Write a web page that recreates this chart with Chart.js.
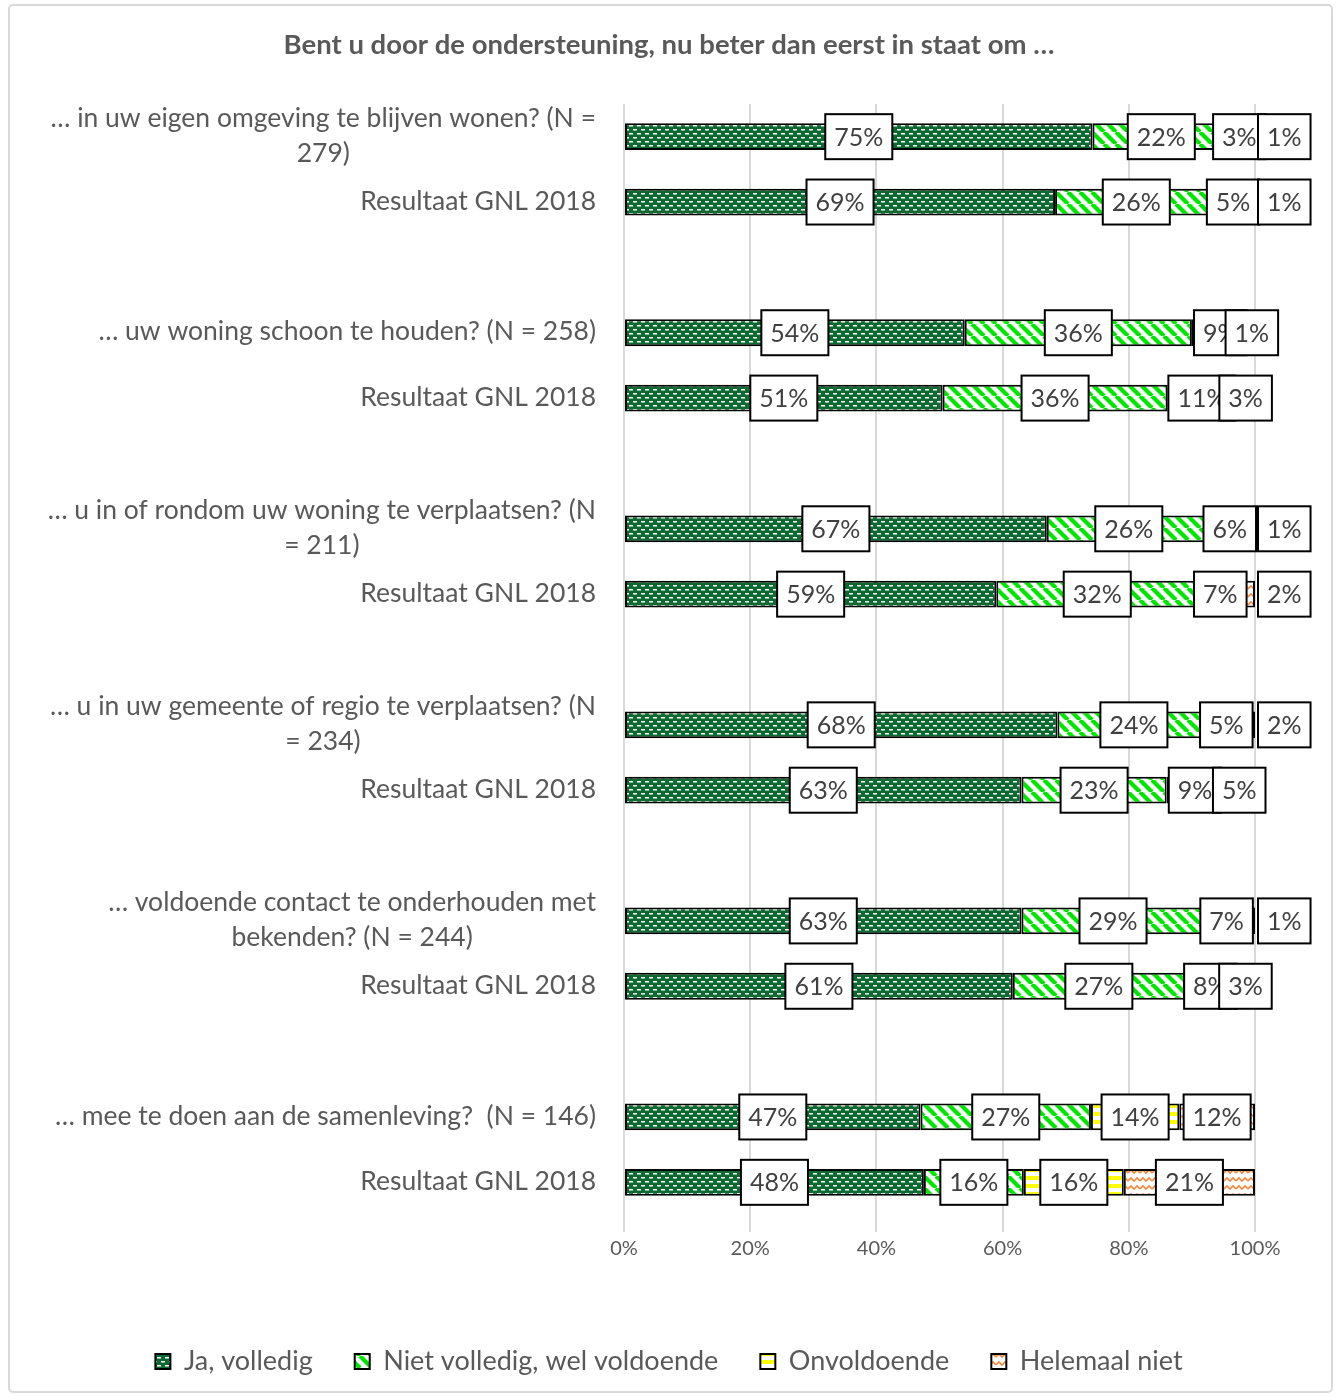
<!DOCTYPE html>
<html lang="nl">
<head>
<meta charset="utf-8">
<title>Ondersteuning</title>
<script src="https://cdn.jsdelivr.net/npm/chart.js@4.4.1/dist/chart.umd.min.js"></script>
<style>
  html, body { margin: 0; padding: 0; background: #fff; }
  canvas { display: block; }
</style>
</head>
<body>
<canvas id="chart" width="1338" height="1397"></canvas>
<script>
// Categories (empty entries are the spacer rows between the questions)
const categories = [
  ['… in uw eigen omgeving te blijven wonen? (N =', '279)'],
  ['Resultaat GNL 2018'],
  [''],
  ['… uw woning schoon te houden? (N = 258)'],
  ['Resultaat GNL 2018'],
  [''],
  ['… u in of rondom uw woning te verplaatsen? (N', '= 211)'],
  ['Resultaat GNL 2018'],
  [''],
  ['… u in uw gemeente of regio te verplaatsen? (N', '= 234)'],
  ['Resultaat GNL 2018'],
  [''],
  ['… voldoende contact te onderhouden met', 'bekenden? (N = 244)'],
  ['Resultaat GNL 2018'],
  [''],
  ['… mee te doen aan de samenleving?  (N = 146)'],
  ['Resultaat GNL 2018']
];

const seriesNames = ['Ja, volledig', 'Niet volledig, wel voldoende', 'Onvoldoende', 'Helemaal niet'];

// percentages as printed in the labels
const jaVolledig   = [75, 69, null, 54, 51, null, 67, 59, null, 68, 63, null, 63, 61, null, 47, 48];
const nietVolledig = [22, 26, null, 36, 36, null, 26, 32, null, 24, 23, null, 29, 27, null, 27, 16];
const onvoldoende  = [3, 5, null, 9, 11, null, 6, 7, null, 5, 9, null, 7, 8, null, 14, 16];
const helemaalNiet = [1, 1, null, 1, 3, null, 1, 2, null, 2, 5, null, 1, 3, null, 12, 21];

const xTicks = [0, 20, 40, 60, 80, 100];

const allSeries = [jaVolledig, nietVolledig, onvoldoende, helemaalNiet];

// 100% stacked: every bar is scaled to its own row total
const rowTotals = categories.map((_, i) => allSeries.reduce((s, arr) => s + (arr[i] || 0), 0));
function toShare(arr) {
    return arr.map((v, i) => v == null ? null : v / rowTotals[i] * 100);
}

function makePattern(w, h, draw) {
    const c = document.createElement('canvas');
    c.width = w;
    c.height = h;
    const g = c.getContext('2d');
    draw(g, w, h);
    return g.createPattern(c, 'repeat');
}

const dotsGreen = makePattern(8, 8, (g, w, h) => {
    g.fillStyle = '#0d6b31';
    g.fillRect(0, 0, w, h);
    g.fillStyle = '#ffffff';
    g.fillRect(1, 1, 4, 1.5);
    g.fillRect(5, 5, 3, 1.5);
    g.fillRect(0, 5, 1, 1.5);
});

const diagGreen = makePattern(12, 12, (g, w, h) => {
    g.fillStyle = '#ffffff';
    g.fillRect(0, 0, w, h);
    g.strokeStyle = '#00e600';
    g.lineWidth = 4.2;
    [-12, 0, 12].forEach(x0 => {
        g.beginPath();
        g.moveTo(x0, 0);
        g.lineTo(x0 + 12, 12);
        g.stroke();
    });
});

const stripesYellow = makePattern(4, 8, (g, w, h) => {
    g.fillStyle = '#ffffff';
    g.fillRect(0, 0, w, h);
    g.fillStyle = '#ffff00';
    g.fillRect(0, 0, w, 4);
});

const waveOrange = makePattern(12, 8, (g, w, h) => {
    g.fillStyle = '#ffffff';
    g.fillRect(0, 0, w, h);
    g.strokeStyle = '#f5873a';
    g.lineWidth = 1.6;
    g.beginPath();
    g.moveTo(0, 5);
    g.lineTo(3, 2);
    g.lineTo(6, 5);
    g.lineTo(9, 2);
    g.lineTo(12, 5);
    g.stroke();
});

const fills = [dotsGreen, diagGreen, stripesYellow, waveOrange];

const frame = {
    id: 'frame',
    beforeDraw(chart) {
        const ctx = chart.ctx;
        ctx.save();
        ctx.fillStyle = '#ffffff';
        ctx.fillRect(0, 0, chart.width, chart.height);
        ctx.strokeStyle = '#d9d9d9';
        ctx.lineWidth = 2;
        ctx.beginPath();
        ctx.roundRect(9, 5, 1323, 1387, 4);
        ctx.stroke();
        ctx.restore();
    }
};

// category labels: block right aligned to the axis, lines centred on each other
const rowLabels = {
    id: 'rowLabels',
    afterDraw(chart) {
        const ctx = chart.ctx;
        const yScale = chart.scales.y;
        const right = chart.chartArea.left - 28;
        ctx.save();
        ctx.font = '26.5px Lato';
        ctx.fillStyle = '#595959';
        ctx.textAlign = 'center';
        ctx.textBaseline = 'middle';
        categories.forEach((lines, i) => {
            const cy = yScale.getPixelForValue(i);
            const widest = Math.max(...lines.map(l => ctx.measureText(l).width));
            const cx = right - widest / 2;
            lines.forEach((l, k) => {
                ctx.fillText(l, cx, cy - 1 + (k - (lines.length - 1) / 2) * 35);
            });
        });
        ctx.restore();
    }
};

// boxed value labels in the middle of each segment
const valueBoxes = {
    id: 'valueBoxes',
    afterDatasetsDraw(chart) {
        const ctx = chart.ctx;
        const end = chart.scales.x.getPixelForValue(100);
        ctx.save();
        ctx.font = '25px Lato';
        ctx.textAlign = 'center';
        ctx.textBaseline = 'middle';
        categories.forEach((_, i) => {
            let prev = null;
            chart.data.datasets.forEach((ds, d) => {
                const v = ds.raw[i];
                if (v == null) return;
                const bar = chart.getDatasetMeta(d).data[i];
                const text = v + '%';
                const w = ctx.measureText(text).width + 18;
                let cx = (bar.x + bar.base) / 2;
                // a label that would sit mostly on top of its neighbour moves past the bar end
                if (prev !== null && cx - prev < w * 0.55) {
                    cx = end + 3 + w / 2;
                }
                ctx.fillStyle = '#ffffff';
                ctx.fillRect(cx - w / 2, bar.y - 22.5, w, 45);
                ctx.strokeStyle = '#000000';
                ctx.lineWidth = 2;
                ctx.strokeRect(cx - w / 2, bar.y - 22.5, w, 45);
                ctx.fillStyle = '#404040';
                ctx.fillText(text, cx, bar.y + 1);
                prev = cx;
            });
        });
        ctx.restore();
    }
};

const ctx = document.getElementById('chart').getContext('2d');

new Chart(ctx, {
    type: 'bar',
    data: {
        labels: categories,
        datasets: allSeries.map((arr, k) => ({
            label: seriesNames[k],
            data: toShare(arr),
            raw: arr,
            backgroundColor: fills[k],
            borderColor: '#000000',
            borderWidth: 2,
            borderSkipped: false,
            barPercentage: 0.41,
            categoryPercentage: 1
        }))
    },
    options: {
        responsive: false,
        animation: false,
        indexAxis: 'y',
        layout: { padding: { top: 0, bottom: 12, left: 0, right: 0 } },
        scales: {
            x: {
                stacked: true,
                min: 0,
                max: 100,
                afterBuildTicks: s => { s.ticks = xTicks.map(v => ({ value: v })); },
                afterFit: s => { s.height = 91; },
                grid: { color: '#d9d9d9', lineWidth: 2, tickLength: 17 },
                border: { display: false },
                ticks: {
                    padding: 5,
                    color: '#595959',
                    font: { family: 'Lato', size: 20 },
                    callback: v => v + '%'
                }
            },
            y: {
                stacked: true,
                afterFit: s => { s.width = 624; },
                grid: { display: false },
                border: { display: false },
                ticks: { display: false }
            },
            y2: {
                type: 'linear',
                axis: 'y',
                position: 'right',
                afterFit: s => { s.width = 83; },
                grid: { display: false },
                border: { display: false },
                ticks: { display: false }
            }
        },
        plugins: {
            title: {
                display: true,
                text: 'Bent u door de ondersteuning, nu beter dan eerst in staat om …',
                color: '#595959',
                font: { family: 'Lato', size: 27.5, weight: 'bold' },
                padding: { top: 29, bottom: 42 }
            },
            legend: {
                position: 'bottom',
                labels: {
                    boxWidth: 15,
                    boxHeight: 15,
                    padding: 42,
                    color: '#595959',
                    font: { family: 'Lato', size: 27 }
                }
            },
            tooltip: { enabled: false }
        }
    },
    plugins: [frame, valueBoxes, rowLabels]
});
</script>
</body>
</html>
